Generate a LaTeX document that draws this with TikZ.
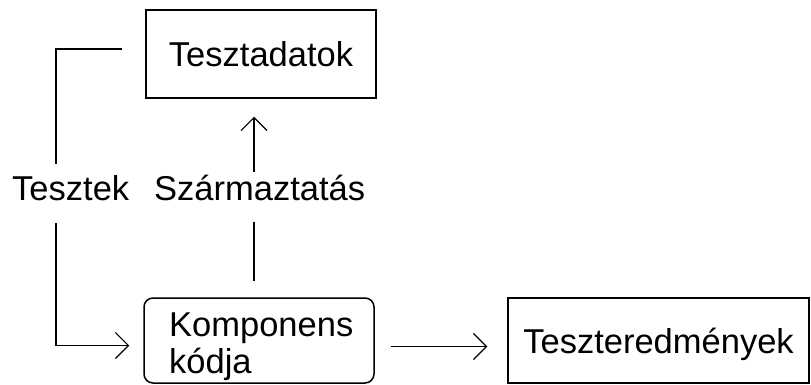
\documentclass[tikz,border=0pt]{standalone}
\usepackage{fontspec}
\setmainfont{Liberation Sans}
\usetikzlibrary{arrows.meta}
\begin{document}
\begin{tikzpicture}[x=1pt,y=-1pt,
  every node/.style={font=\fontsize{34.5}{37}\selectfont},
  box/.style={draw, line width=1.5pt, inner sep=0pt, text depth=0pt},
  txt/.style={anchor=base west, inner sep=0pt},
  conn/.style={line width=1.3pt},
  tip/.style={-{Straight Barb[length=13pt,width=26pt,line width=1.1pt]}}]
\useasboundingbox (0,0) rectangle (811,385);

% boxes
\node[box, minimum width=230pt, minimum height=88pt] (tda) at (261,54) {Tesztadatok};
\node[box, rounded corners=9pt, minimum width=230pt, minimum height=85pt] (kom) at (259,340.5) {};
\node[txt] (kom1) at (169,336) {Komponens};
\node[txt] (kom2) at (169,373) {kódja};
\node[box, minimum width=301pt, minimum height=85pt] (ter) at (658.5,340.5) {Teszteredmények};

% connector labels
\node[txt] (tsk) at (12,200) {Tesztek};
\node[txt] (szt) at (154,200) {Származtatás};

% break points of the connectors around the labels
\coordinate (ta) at (56,164);
\coordinate (tb) at (56,223);
\coordinate (sa) at (254,172);
\coordinate (sb) at (254,222);

% Tesztek: test data -> component code
\draw[conn, shorten <=23pt] ([yshift=5pt]tda.west) -| (ta);
\draw[conn, tip, shorten >=14pt] (tb) |- ([yshift=-5pt]kom.west);

% Származtatás: component code -> test data
\draw[conn, shorten <=16pt] (sb |- kom.north) -- (sb);
\draw[conn, tip, shorten >=18pt] (sa) -- (sa |- tda.south);

% component code -> test results
\draw[conn, tip, shorten <=16pt, shorten >=20pt] ([yshift=-6pt]kom.east) -- ([yshift=-6pt]ter.west);
\end{tikzpicture}
\end{document}
